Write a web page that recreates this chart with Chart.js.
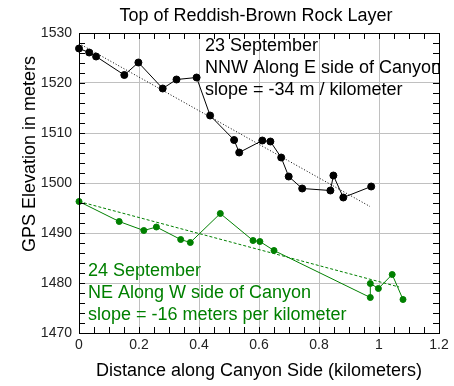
<!DOCTYPE html>
<html>
<head>
<meta charset="utf-8">
<script src="https://cdn.jsdelivr.net/npm/chart.js@4/dist/chart.umd.min.js"></script>
<style>
  body { margin: 0; background: #fff; }
  canvas { display: block; }
</style>
</head>
<body>
<canvas id="myChart" width="454" height="386"></canvas>
<script>
// 23 September, NNW along E side of canyon
const dist23 = [0, 0.034, 0.057, 0.151, 0.198, 0.279, 0.325, 0.392, 0.437, 0.517, 0.534, 0.611, 0.638, 0.674, 0.699, 0.744, 0.838, 0.848, 0.881, 0.974];
const elev23 = [1526.9, 1526.1, 1525.3, 1521.6, 1524.1, 1518.9, 1520.7, 1521.1, 1513.5, 1508.6, 1506.1, 1508.5, 1508.3, 1505.1, 1501.3, 1498.9, 1498.5, 1501.5, 1497.1, 1499.3];
const fitDist23 = [0, 0.97];
const fitElev23 = [1527.9, 1495.3];

// 24 September, NE along W side of canyon
const dist24 = [0, 0.134, 0.216, 0.258, 0.339, 0.371, 0.471, 0.58, 0.603, 0.65, 0.971, 0.971, 0.998, 1.044, 1.08];
const elev24 = [1496.3, 1492.3, 1490.5, 1491.2, 1488.7, 1488.1, 1493.9, 1488.5, 1488.3, 1486.5, 1477.1, 1479.9, 1478.9, 1481.7, 1476.7];
const fitDist24 = [0, 1.067];
const fitElev24 = [1496.3, 1479.2];

const xTicks = [0, 0.2, 0.4, 0.6, 0.8, 1, 1.2];
const yTicks = [1470, 1480, 1490, 1500, 1510, 1520, 1530];

const green = '#008000';
const FONT = 'Liberation Sans, Arial, sans-serif';

const toPoints = (xs, ys) => xs.map((x, i) => ({ x: x, y: ys[i] }));

// box, inward minor/major ticks, titles and notes
const framePlugin = {
    id: 'frame',
    afterDraw(chart) {
        const ctx = chart.ctx;
        const a = chart.chartArea;
        const xs = chart.scales.x, ys = chart.scales.y;
        ctx.save();
        ctx.strokeStyle = '#000';
        ctx.lineWidth = 1;
        ctx.beginPath();
        for (let v = 0; v <= 1.2001; v += 0.05) {
            const px = Math.round(xs.getPixelForValue(v)) + 0.5;
            ctx.moveTo(px, a.bottom); ctx.lineTo(px, a.bottom - 6);
            ctx.moveTo(px, a.top); ctx.lineTo(px, a.top + 6);
        }
        for (let v = 1470; v <= 1530; v += 2) {
            const py = Math.round(ys.getPixelForValue(v)) + 0.5;
            ctx.moveTo(a.left, py); ctx.lineTo(a.left + 6, py);
            ctx.moveTo(a.right, py); ctx.lineTo(a.right - 6, py);
        }
        ctx.stroke();
        ctx.strokeRect(Math.round(a.left) + 0.5, Math.round(a.top) + 0.5,
            Math.round(a.right - a.left), Math.round(a.bottom - a.top));

        ctx.font = '18px ' + FONT;
        ctx.textAlign = 'center';
        ctx.textBaseline = 'alphabetic';
        ctx.fillStyle = '#000';
        ctx.fillText('Top of Reddish-Brown Rock Layer', 256, 21);

        // y axis title sits above the middle of the axis in the original
        ctx.save();
        ctx.translate(34.5, 154);
        ctx.rotate(-Math.PI / 2);
        ctx.fillText('GPS Elevation in meters', 0, 0);
        ctx.restore();

        ctx.textAlign = 'left';
        ctx.fillText('23 September', 205, 51);
        ctx.fillText('NNW Along E side of Canyon', 205, 73);
        ctx.fillText('slope = -34 m / kilometer', 205, 95);
        ctx.fillStyle = green;
        ctx.fillText('24 September', 88, 276);
        ctx.fillText('NE Along W side of Canyon', 88, 298);
        ctx.fillText('slope = -16 meters per kilometer', 88, 319.5);
        ctx.restore();
    }
};

const ctx = document.getElementById('myChart').getContext('2d');
const myChart = new Chart(ctx, {
    type: 'scatter',
    data: {
        datasets: [{
            label: 'fit 23 Sep',
            data: toPoints(fitDist23, fitElev23),
            showLine: true,
            borderColor: '#000',
            borderWidth: 1,
            borderDash: [1, 2],
            pointRadius: 0,
            clip: false
        }, {
            label: 'fit 24 Sep',
            data: toPoints(fitDist24, fitElev24),
            showLine: true,
            borderColor: green,
            borderWidth: 1,
            borderDash: [3, 2],
            pointRadius: 0,
            clip: false
        }, {
            label: '23 September',
            data: toPoints(dist23, elev23),
            showLine: true,
            borderColor: '#000',
            backgroundColor: '#000',
            borderWidth: 1,
            pointRadius: 3.5,
            pointBorderWidth: 1,
            clip: false
        }, {
            label: '24 September',
            data: toPoints(dist24, elev24),
            showLine: true,
            borderColor: green,
            backgroundColor: green,
            borderWidth: 1,
            pointRadius: 3,
            pointBorderWidth: 1,
            clip: false
        }]
    },
    options: {
        responsive: false,
        animation: false,
        layout: { padding: { top: 33, right: 15, left: 0, bottom: 0 } },
        plugins: {
            legend: { display: false },
            tooltip: { enabled: false }
        },
        scales: {
            x: {
                type: 'linear',
                min: 0,
                max: 1.2,
                afterFit: s => { s.height = 53; },
                afterBuildTicks: s => { s.ticks = xTicks.map(v => ({ value: v })); },
                ticks: {
                    padding: 4,
                    color: '#222',
                    font: { family: FONT, size: 14 },
                    maxRotation: 0,
                    callback: v => String(v)
                },
                grid: { color: '#c0c0c0', drawTicks: false },
                border: { display: false },
                title: {
                    display: true,
                    text: 'Distance along Canyon Side (kilometers)',
                    color: '#000',
                    font: { family: FONT, size: 18 },
                    padding: { top: 0, bottom: 4 }
                }
            },
            y: {
                type: 'linear',
                min: 1470,
                max: 1530,
                afterFit: s => { s.width = 79; },
                afterBuildTicks: s => { s.ticks = yTicks.map(v => ({ value: v })); },
                ticks: {
                    padding: 7,
                    color: '#222',
                    font: { family: FONT, size: 14 },
                    callback: v => String(v)
                },
                grid: { color: '#c0c0c0', drawTicks: false },
                border: { display: false },
                title: { display: false }
            }
        }
    },
    plugins: [framePlugin]
});
</script>
</body>
</html>
